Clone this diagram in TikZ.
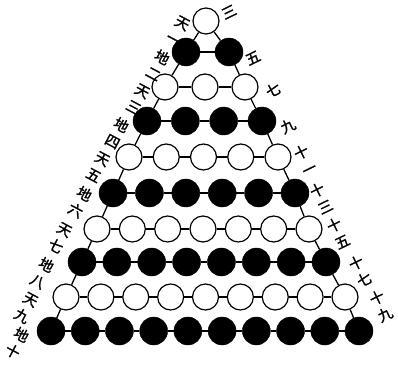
\documentclass[tikz,border=0pt]{standalone}
\usepackage{fontspec}
\newfontfamily\cjk[FakeBold=1.5]{Noto Sans CJK SC}
\begin{document}
\begin{tikzpicture}[x=1pt,y=-1pt,
 wc/.style={circle,draw=black,line width=1.2pt,fill=white,minimum size=26pt,inner sep=0pt},
 bc/.style={circle,draw=black,fill=black,minimum size=28pt,inner sep=0pt},
 link/.style={line width=1.3pt},
 lab/.style={font=\cjk\fontsize{14.5}{18.6}\selectfont,inner sep=0pt,align=center}]
\useasboundingbox (0,0) rectangle (398,364);
\foreach \k/\y/\l/\r in {1/21/206/206, 2/52/186/229, 3/87/165/245, 4/121/147/262, 5/157/129/278, 6/193/113/295, 7/229/97/309, 8/262/82/326, 9/297/66/345, 10/331/51/359}{
  \foreach \i in {1,...,\k}{
    \ifnum\k=1 \def\xx{\l}\else
    \pgfmathsetmacro\xx{\l+(\i-1)*(\r-\l)/(\k-1)}\fi
    \ifodd\k
      \node[wc] (n\k-\i) at (\xx,\y) {};
    \else
      \node[bc] (n\k-\i) at (\xx,\y) {};
    \fi
  }
}
\foreach \k in {2,...,10}{
  \foreach \i in {2,...,\k}{
    \pgfmathtruncatemacro\j{\i-1}
    \draw[link] (n\k-\j) -- (n\k-\i);
  }
}
\foreach \k in {1,...,9}{
  \pgfmathtruncatemacro\m{\k+1}
  \draw[link] (n\k-1) -- (n\m-1);
  \draw[link] (n\k-\k) -- (n\m-\m);
}
% left labels
\node[lab,rotate=-28] (L1) at (178,31) {天\\一};
\node[lab,rotate=-28] (L2) at (158,65) {地\\二};
\node[lab,rotate=-28] (L3) at (138,99) {天\\三};
\node[lab,rotate=-28] (L4) at (117,133) {地\\四};
\node[lab,rotate=-28] (L5) at (98,167) {天\\五};
\node[lab,rotate=-28] (L6) at (80,202) {地\\六};
\node[lab,rotate=-28] (L7) at (60,238) {天\\七};
\node[lab,rotate=-28] (L8) at (42,273) {地\\八};
\node[lab,rotate=-28] (L9) at (26,308) {天\\九};
\node[lab,rotate=-28] (L10) at (17,343) {地\\十};
% right labels
\node[lab,rotate=26] (R1) at (229,12) {三};
\node[lab,rotate=26] (R2) at (253,58) {五};
\node[lab,rotate=26] (R3) at (273,90) {七};
\node[lab,rotate=26] (R4) at (288,126) {九};
\node[lab,rotate=26] (R5) at (305,160) {十\\一};
\node[lab,rotate=26] (R6) at (321,198) {十\\三};
\node[lab,rotate=26] (R7) at (338,233) {十\\五};
\node[lab,rotate=26] (R8) at (360,271) {十\\七};
\node[lab,rotate=26] (R9) at (381,306) {十\\九};
\end{tikzpicture}
\end{document}
